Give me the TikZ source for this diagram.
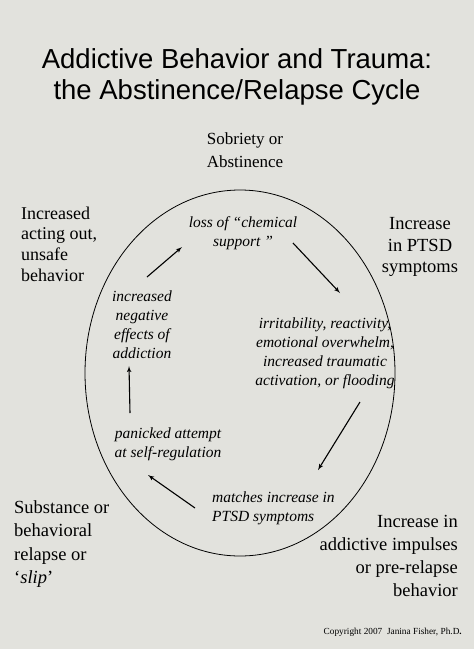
\documentclass[tikz,border=0pt]{standalone}
\usepackage{fontspec}
\setmainfont{Liberation Serif}
\newfontfamily\titlefont{Liberation Sans}
\usepackage{tikz}
\usetikzlibrary{shapes,arrows}
\definecolor{paper}{RGB}{226,226,221}
\tikzstyle{title} = [align=center, inner sep=0pt,
    font=\titlefont\fontsize{27.5}{30.5}\selectfont]
\tikzstyle{phase} = [inner sep=0pt, font=\fontsize{18.5}{23.3}\selectfont]
\tikzstyle{inner} = [inner sep=0pt, font=\itshape\fontsize{15.5}{19}\selectfont]
\tikzstyle{line} = [draw, line width=1.1pt, -latex']

\begin{document}
\begin{tikzpicture}[x=1pt, y=-1pt]
    \useasboundingbox [fill=paper] (0,0) rectangle (474,649);
    % Place nodes
    \node [title] (head) at (237,77) {Addictive Behavior and Trauma:\\the Abstinence/Relapse Cycle};
    \node [phase, align=center, font=\fontsize{17}{23}\selectfont] (sober) at (245,150) {Sobriety or\\Abstinence};
    \node [phase, align=center, font=\fontsize{18.5}{21.5}\selectfont] (ptsd) at (420,247) {Increase\\in PTSD\\symptoms};
    \node [phase, align=right, anchor=east] (impulse) at (458,556) {Increase in\\addictive impulses\\or pre-relapse\\behavior};
    \node [phase, align=left, anchor=west] (slip) at (14,544) {Substance or\\behavioral\\relapse or\\`\textit{slip}'};
    \node [phase, align=left, anchor=west, font=\fontsize{18}{20.7}\selectfont] (acting) at (21,244) {Increased\\acting out,\\unsafe\\behavior};
    % cycle
    \draw [line width=0.8pt] (240,373) ellipse (155 and 183);
    \node [inner, align=center] (loss) at (243,233) {loss of ``chemical\\support ''};
    \node [inner, align=center] (irrit) at (325,353) {irritability, reactivity,\\emotional overwhelm,\\increased traumatic\\activation, or flooding};
    \node [inner, align=left, anchor=west] (match) at (212,508) {matches increase in\\PTSD symptoms};
    \node [inner, align=center] (panic) at (168,444) {panicked attempt\\at self-regulation};
    \node [inner, align=center] (neg) at (142,325) {increased\\negative\\effects of\\addiction};
    \node [font=\fontsize{9.3}{11}\selectfont, anchor=east, inner sep=0pt] (copy) at (462,632) {Copyright 2007\ \ Janina Fisher, Ph.D\textbf{.}};
    % arrow ends
    \coordinate (lossout) at (293,243);
    \coordinate (irritin) at (340,293);
    \coordinate (irritout) at (360,402);
    \coordinate (matchin) at (318,470);
    \coordinate (matchout) at (195,508);
    \coordinate (panicin) at (148,475);
    \coordinate (panicout) at (130,413);
    \coordinate (negin) at (129,366);
    \coordinate (negout) at (147,277);
    \coordinate (lossin) at (182,247);
    \path [line] (lossout) -- (irritin);
    \path [line] (irritout) -- (matchin);
    \path [line] (matchout) -- (panicin);
    \path [line] (panicout) -- (negin);
    \path [line] (negout) -- (lossin);
\end{tikzpicture}
\end{document}
